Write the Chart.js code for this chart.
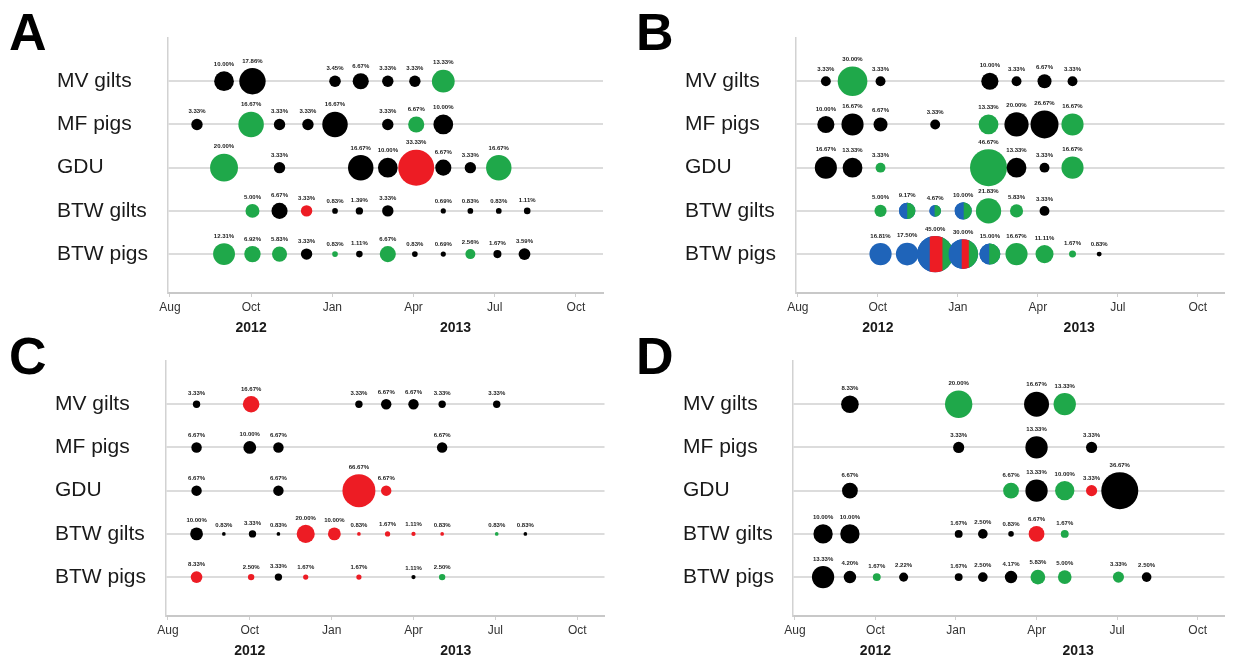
<!DOCTYPE html>
<html>
<head>
<meta charset="utf-8">
<script src="https://cdn.jsdelivr.net/npm/chart.js@4.4.1/dist/chart.umd.min.js"></script>
<style>
  html, body { margin:0; padding:0; background:#fff; }
  body { width:1243px; height:659px; position:relative; overflow:hidden; font-family:"Liberation Sans", Arial, sans-serif; }
  canvas { position:absolute; }
  .letter { position:absolute; font-weight:bold; font-size:52px; line-height:1; color:#000; }
</style>
</head>
<body>
<div class="letter" style="left:9px;top:6px;">A</div>
<div class="letter" style="left:636px;top:6px;">B</div>
<div class="letter" style="left:9px;top:330px;">C</div>
<div class="letter" style="left:636px;top:330px;">D</div>
<canvas id="cA" width="621" height="335" style="left:0px;top:0px;"></canvas>
<canvas id="cB" width="615" height="335" style="left:628px;top:0px;"></canvas>
<canvas id="cC" width="621" height="329" style="left:0px;top:330px;"></canvas>
<canvas id="cD" width="615" height="329" style="left:628px;top:330px;"></canvas>
<script>
// ---------- data ----------
const categories = ['MV gilts', 'MF pigs', 'GDU', 'BTW gilts', 'BTW pigs'];
const monthTicks = ['Aug', 'Oct', 'Jan', 'Apr', 'Jul', 'Oct'];
const yearLabels = ['2012', '2013'];
const yearAt = [3.0, 10.55];

// Panel A: month position, percentage, colour (k black, g green, r red, b blue)
const aMonths = [
  [2.0, 3.05, 6.1, 7.05, 8.05, 9.05, 10.1],
  [1.0, 3.0, 4.05, 5.1, 6.1, 8.05, 9.1, 10.1],
  [2.0, 4.05, 7.05, 8.05, 9.1, 10.1, 11.1, 12.15],
  [3.05, 4.05, 5.05, 6.1, 7.0, 8.05, 10.1, 11.1, 12.15, 13.2],
  [2.0, 3.05, 4.05, 5.05, 6.1, 7.0, 8.05, 9.05, 10.1, 11.1, 12.1, 13.1]
];
const aValues = [
  [10.00, 17.86, 3.45, 6.67, 3.33, 3.33, 13.33],
  [3.33, 16.67, 3.33, 3.33, 16.67, 3.33, 6.67, 10.00],
  [20.00, 3.33, 16.67, 10.00, 33.33, 6.67, 3.33, 16.67],
  [5.00, 6.67, 3.33, 0.83, 1.39, 3.33, 0.69, 0.83, 0.83, 1.11],
  [12.31, 6.92, 5.83, 3.33, 0.83, 1.11, 6.67, 0.83, 0.69, 2.56, 1.67, 3.59]
];
const aColors = [
  ['k','k','k','k','k','k','g'],
  ['k','g','k','k','k','k','g','k'],
  ['g','k','k','k','r','k','k','g'],
  ['g','k','r','k','k','k','k','k','k','k'],
  ['g','g','g','k','g','k','g','k','k','g','k','k']
];

// Panel B
const bMonths = [
  [1.05, 2.05, 3.1, 7.2, 8.2, 9.25, 10.3],
  [1.05, 2.05, 3.1, 5.15, 7.15, 8.2, 9.25, 10.3],
  [1.05, 2.05, 3.1, 7.15, 8.2, 9.25, 10.3],
  [3.1, 4.1, 5.15, 6.2, 7.15, 8.2, 9.25],
  [3.1, 4.1, 5.15, 6.2, 7.2, 8.2, 9.25, 10.3, 11.3]
];
const bValues = [
  [3.33, 30.00, 3.33, 10.00, 3.33, 6.67, 3.33],
  [10.00, 16.67, 6.67, 3.33, 13.33, 20.00, 26.67, 16.67],
  [16.67, 13.33, 3.33, 46.67, 13.33, 3.33, 16.67],
  [5.00, 9.17, 4.67, 10.00, 21.83, 5.83, 3.33],
  [16.81, 17.50, 45.00, 30.00, 15.00, 16.67, 11.11, 1.67, 0.83]
];
const bColors = [
  ['k','g','k','k','k','k','k'],
  ['k','k','k','k','g','k','k','g'],
  ['k','k','g','g','k','k','g'],
  ['g','bg','bg','bg','g','g','k'],
  ['b','b','brg','brg','bg','g','g','g','k']
];
// share of each colour across the split bubbles (left to right)
const bSplits = [
  [], [], [],
  [null, [0.50, 0.50], [0.45, 0.55], [0.53, 0.47], null, null, null],
  [null, null, [0.35, 0.35, 0.30], [0.45, 0.24, 0.31], [0.47, 0.53], null, null, null, null]
];

// Panel C
const cMonths = [
  [1.05, 3.05, 7.0, 8.0, 9.0, 10.05, 12.05],
  [1.05, 3.0, 4.05, 10.05],
  [1.05, 4.05, 7.0, 8.0],
  [1.05, 2.05, 3.1, 4.05, 5.05, 6.1, 7.0, 8.05, 9.0, 10.05, 12.05, 13.1],
  [1.05, 3.05, 4.05, 5.05, 7.0, 9.0, 10.05]
];
const cValues = [
  [3.33, 16.67, 3.33, 6.67, 6.67, 3.33, 3.33],
  [6.67, 10.00, 6.67, 6.67],
  [6.67, 6.67, 66.67, 6.67],
  [10.00, 0.83, 3.33, 0.83, 20.00, 10.00, 0.83, 1.67, 1.11, 0.83, 0.83, 0.83],
  [8.33, 2.50, 3.33, 1.67, 1.67, 1.11, 2.50]
];
const cColors = [
  ['k','r','k','k','k','k','k'],
  ['k','k','k','k'],
  ['k','k','r','r'],
  ['k','k','k','k','r','r','r','r','r','r','g','k'],
  ['r','r','k','r','r','k','g']
];

// Panel D
const dMonths = [
  [2.05, 6.1, 9.0, 10.05],
  [6.1, 9.0, 11.05],
  [2.05, 8.05, 9.0, 10.05, 11.05, 12.1],
  [1.05, 2.05, 6.1, 7.0, 8.05, 9.0, 10.05],
  [1.05, 2.05, 3.05, 4.05, 6.1, 7.0, 8.05, 9.05, 10.05, 12.05, 13.1]
];
const dValues = [
  [8.33, 20.00, 16.67, 13.33],
  [3.33, 13.33, 3.33],
  [6.67, 6.67, 13.33, 10.00, 3.33, 36.67],
  [10.00, 10.00, 1.67, 2.50, 0.83, 6.67, 1.67],
  [13.33, 4.20, 1.67, 2.22, 1.67, 2.50, 4.17, 5.83, 5.00, 3.33, 2.50]
];
const dColors = [
  ['k','g','k','g'],
  ['k','k','k'],
  ['k','g','k','g','r','k'],
  ['k','k','k','k','k','r','g'],
  ['k','k','g','k','k','k','k','g','g','g','k']
];

// ---------- styling ----------
const FONT = '"Liberation Sans", Arial, sans-serif';
const PALETTE = { k: '#000000', g: '#1fa84a', r: '#ed1c24', b: '#1f64b9' };

const extrasPlugin = {
  id: 'extras',
  afterDatasetsDraw(chart) {
    const ctx = chart.ctx;
    chart.data.datasets.forEach((ds, di) => {
      const meta = chart.getDatasetMeta(di);
      meta.data.forEach((el, i) => {
        const r = el.options.radius;
        const split = ds.splits && ds.splits[i];
        if (split) {
          const codes = ds.codes[i].split('');
          ctx.save();
          ctx.beginPath();
          ctx.arc(el.x, el.y, r, 0, Math.PI * 2);
          ctx.clip();
          let x0 = el.x - r;
          split.forEach((f, k) => {
            ctx.fillStyle = PALETTE[codes[k]];
            ctx.fillRect(x0, el.y - r - 1, f * 2 * r + 0.6, 2 * r + 2);
            x0 += f * 2 * r;
          });
          ctx.restore();
        }
        ctx.save();
        ctx.fillStyle = '#222';
        ctx.font = 'bold 6px ' + FONT;
        ctx.textAlign = 'center';
        ctx.textBaseline = 'middle';
        ctx.fillText(ds.values[i].toFixed(2) + '%', el.x, el.y - r - 7);
        ctx.restore();
      });
    });
    const xs = chart.scales.x;
    ctx.save();
    ctx.fillStyle = '#1a1a1a';
    ctx.font = 'bold 14px ' + FONT;
    ctx.textAlign = 'center';
    ctx.textBaseline = 'middle';
    yearLabels.forEach((t, i) => ctx.fillText(t, xs.getPixelForValue(yearAt[i]), chart.chartArea.bottom + 35));
    ctx.restore();
  }
};

function makePanel(id, months, values, colors, splits, cfg) {
  const vmax = Math.max(...values.flat());
  const datasets = months.map((row, ri) => ({
    data: row.map((m, i) => ({ x: m, y: 5 - ri, r: cfg.rmax * Math.sqrt(values[ri][i] / vmax) })),
    values: values[ri],
    codes: colors[ri],
    splits: splits ? splits[ri] : null,
    backgroundColor: colors[ri].map(c => PALETTE[c[0]]),
    borderWidth: 0,
    hoverBorderWidth: 0
  }));
  new Chart(document.getElementById(id), {
    type: 'bubble',
    data: { datasets },
    plugins: [extrasPlugin],
    options: {
      responsive: false,
      animation: false,
      events: [],
      devicePixelRatio: 1,
      layout: { padding: { left: cfg.padLeft, top: cfg.padTop, right: cfg.padRight, bottom: 0 } },
      plugins: { legend: { display: false }, tooltip: { enabled: false } },
      scales: {
        x: {
          type: 'linear', min: -0.07, max: 16,
          afterBuildTicks: s => { s.ticks = [0, 3, 6, 9, 12, 15].map(v => ({ value: v })); },
          afterFit: s => { s.height = cfg.xAxisH; },
          ticks: { callback: (v, i) => monthTicks[i], autoSkip: false, maxRotation: 0,
                   font: { size: 12, family: FONT }, color: '#333', padding: 3 },
          grid: { drawOnChartArea: false, drawTicks: true, tickLength: 4, color: '#cfcfcf' },
          border: { color: '#c8c8c8', width: 2 }
        },
        y: {
          type: 'linear', min: 0.1, max: 6,
          afterBuildTicks: s => { s.ticks = [5, 4, 3, 2, 1].map(v => ({ value: v })); },
          afterFit: s => { s.width = cfg.axisW; },
          ticks: { callback: v => categories[5 - v], crossAlign: 'far', autoSkip: false,
                   font: { size: 21, family: FONT }, color: '#1a1a1a', padding: 0 },
          grid: { color: '#dcdcdc', lineWidth: 2, drawTicks: false },
          border: { color: '#d2d2d2', width: 1.5 }
        }
      }
    }
  });
}

makePanel('cA', aMonths, aValues, aColors, null,   { padLeft: 57, axisW: 111, padTop: 38, padRight: 11, xAxisH: 42, rmax: 18 });
makePanel('cB', bMonths, bValues, bColors, bSplits, { padLeft: 57, axisW: 111, padTop: 38, padRight: 5,  xAxisH: 42, rmax: 18.5 });
makePanel('cC', cMonths, cValues, cColors, null,   { padLeft: 55, axisW: 111, padTop: 31, padRight: 13, xAxisH: 43, rmax: 16.5 });
makePanel('cD', dMonths, dValues, dColors, null,   { padLeft: 55, axisW: 110, padTop: 31, padRight: 8,  xAxisH: 43, rmax: 18.5 });
</script>
</body>
</html>
